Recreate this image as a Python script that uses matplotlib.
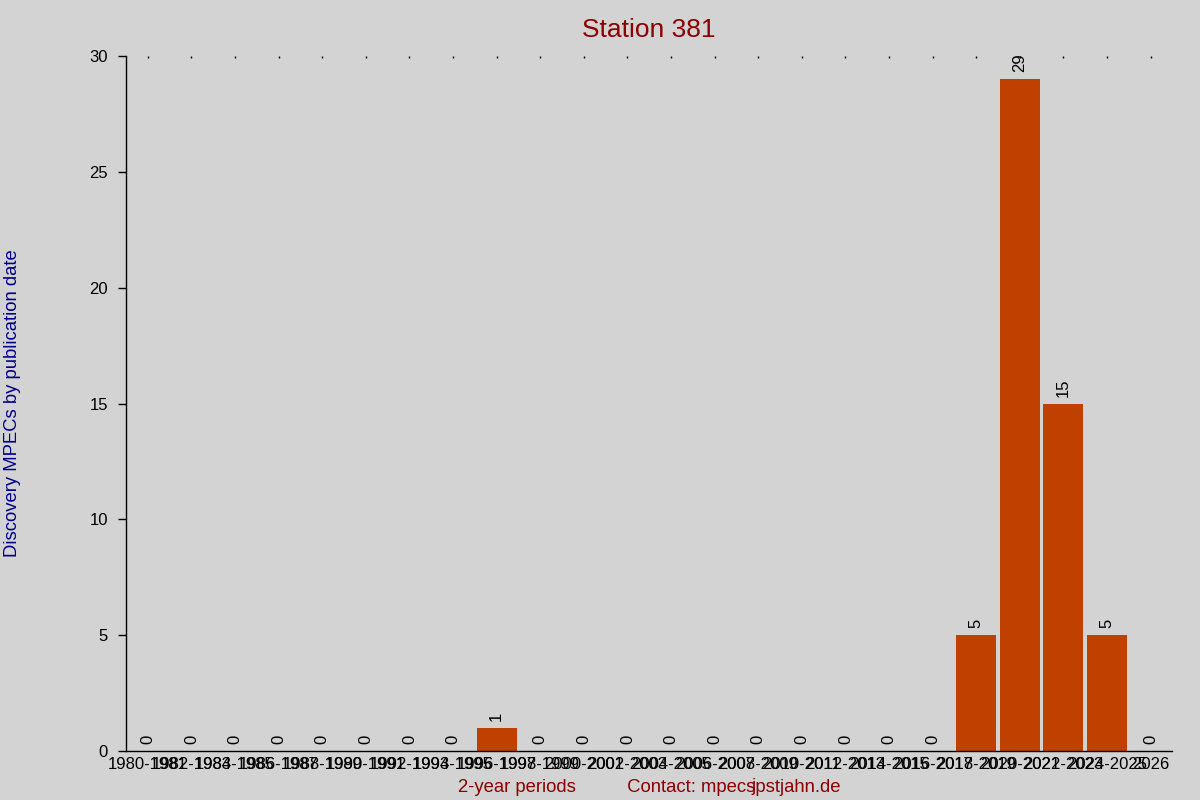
import numpy as np
import matplotlib
matplotlib.use("Agg")
import matplotlib.pyplot as plt

# ---------------------------------------------------------------
# data: discovery MPECs of station 381 per 2-year period
periods = ['1980-1981', '1982-1983', '1984-1985', '1986-1987', '1988-1989',
           '1990-1991', '1992-1993', '1994-1995', '1996-1997', '1998-1999',
           '2000-2001', '2002-2003', '2004-2005', '2006-2007', '2008-2009',
           '2010-2011', '2012-2013', '2014-2015', '2016-2017', '2018-2019',
           '2020-2021', '2022-2023', '2024-2025', '2026']
counts = [0, 0, 0, 0, 0, 0, 0, 0, 1, 0, 0, 0, 0, 0, 0, 0, 0, 0, 0, 5, 29, 15, 5, 0]
y_ticks = [0, 5, 10, 15, 20, 25, 30]

# ---------------------------------------------------------------
plt.rcParams['font.family'] = ['Liberation Sans', 'DejaVu Sans']
bg = '#d3d3d3'
bar_col = '#c04000'

fig = plt.figure(figsize=(12, 8), dpi=100, facecolor=bg)
ax = fig.add_axes([0.105, 0.061, 0.872, 0.869], facecolor=bg)

x = np.arange(len(periods))
bars = ax.bar(x, counts, width=0.92, color=bar_col)

# value labels above each bar
for xi, v in zip(x, counts):
    ax.annotate(str(v), (xi, v), xytext=(0, 5), textcoords='offset points',
                rotation=90, ha='center', va='bottom', fontsize=12, color='black')

ax.set_xlim(-0.5, len(periods) - 0.5)
ax.set_ylim(0, 30)
ax.set_yticks(y_ticks)
ax.set_xticks(x)
ax.set_xticklabels(periods, fontsize=12)

ax.spines['top'].set_visible(False)
ax.spines['right'].set_visible(False)
ax.spines['left'].set_linewidth(1)
ax.spines['bottom'].set_linewidth(1)

ax.tick_params(axis='y', direction='out', length=6, width=1, pad=7, labelsize=12)
# small dots at the top of the plot instead of bottom ticks
ax.tick_params(axis='x', bottom=False, top=True, direction='in', length=1.2,
               width=1, pad=4, labelbottom=True, labeltop=False)

ax.set_title('Station 381', color='#8b0000', fontsize=19, pad=14)
ax.set_ylabel('Discovery MPECs by publication date', color='#00008b', fontsize=13.3)
ax.yaxis.set_label_coords(-0.1, 0.5)
ax.set_xlabel('2-year periods          Contact: mpecspstjahn.de',
              color='#8b0000', fontsize=13.3, labelpad=5)
# the stray glyph drawn over the address in the original
fig.text(0.6258, 0.0115, 'j', color='#8b0000', fontsize=13.3, ha='left', va='baseline')

plt.savefig('out.png', dpi=100, facecolor=bg)
